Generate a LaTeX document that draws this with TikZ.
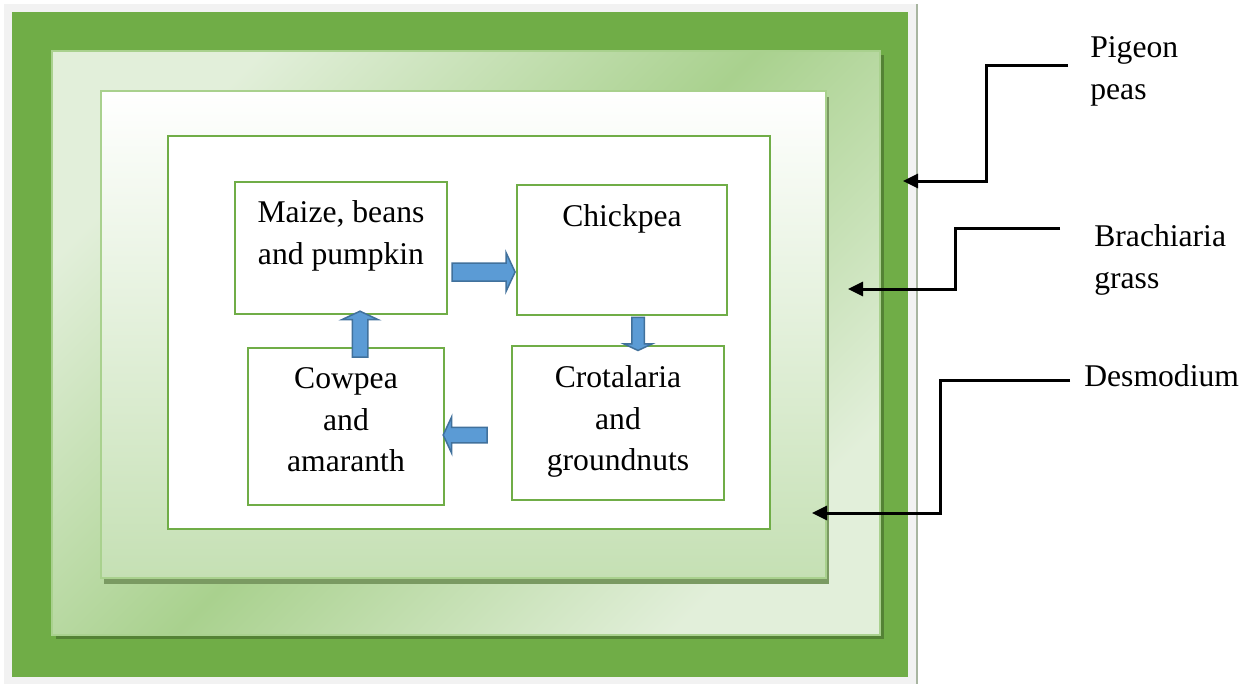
\documentclass[tikz,border=0pt]{standalone}
\usepackage{fontspec}
\setmainfont{Liberation Serif}
\usetikzlibrary{positioning,shapes.arrows,arrows.meta}
\definecolor{bggray}{HTML}{F2F2F2}
\definecolor{edgegray}{HTML}{A8B5A0}
\definecolor{ringgreen}{HTML}{70AD47}
\definecolor{ringshadow}{HTML}{548235}
\definecolor{lightring}{HTML}{E2EFDA}
\definecolor{midring}{HTML}{A9D18E}
\definecolor{ringedge}{HTML}{A9D18E}
\definecolor{innerbottom}{HTML}{C5E0B4}
\definecolor{innershadow}{HTML}{7A9A62}
\definecolor{arrowblue}{HTML}{5B9BD5}
\definecolor{arrowedge}{HTML}{41719C}
\tikzstyle{box}=[draw=ringgreen,line width=0.04cm,fill=white,inner sep=0pt]
\tikzstyle{txt}=[inner sep=0pt,align=center,font=\fontsize{18}{23.8}\selectfont]
\tikzstyle{blockarrow}=[single arrow,draw=arrowedge,fill=arrowblue,line width=0.03cm,inner xsep=0pt,inner ysep=0.14cm,minimum width=0pt,single arrow head extend=0.21cm,single arrow tip angle=130]
\tikzstyle{pointer}=[-{Triangle[length=0.3cm,width=0.28cm]},draw=black,line width=0.06cm]

\begin{document}
\begin{tikzpicture}[x=0.02cm,y=-0.02cm]
 \useasboundingbox (0,0) rectangle (1252,684);
 % rings
 \fill [bggray] (4,4) rectangle (917,684);
 \draw [edgegray,line width=0.04cm] (917,4) -- (917,684);
 \fill [ringgreen] (12,12) rectangle (908,677);
 \fill [ringshadow] (56,55) rectangle (884,639);
 \shade [top color=lightring,bottom color=lightring,middle color=midring,shading angle=45] (52,51) rectangle (880,635);
 \draw [ringedge,line width=0.04cm] (52,51) rectangle (880,635);
 \fill [innershadow] (104,97) rectangle (829,584);
 \shade [top color=white,bottom color=innerbottom] (101,91) rectangle (826,578);
 \draw [ringedge,line width=0.04cm] (101,91) rectangle (826,578);
 \draw [ringgreen,line width=0.04cm,fill=white] (168,136) rectangle (770,529);
 % crop boxes
 \node [style=box,minimum width=4.24cm,minimum height=2.64cm] (maize) at (341,248) {};
 \node [style=box,minimum width=4.2cm,minimum height=2.6cm] (chick) at (622,250) {};
 \node [style=box,minimum width=4.24cm,minimum height=3.08cm] (crot) at (618,423) {};
 \node [style=box,minimum width=3.92cm,minimum height=3.14cm] (cow) at (346,426.5) {};
 \node [style=txt,below=0.38cm of maize.north] (maizetxt) {Maize, beans\\and pumpkin};
 \node [style=txt,below=0.4cm of chick.north] (chicktxt) {Chickpea};
 \node [style=txt,below=0.4cm of crot.north] (crottxt) {Crotalaria\\and\\groundnuts};
 \node [style=txt,below=0.4cm of cow.north] (cowtxt) {Cowpea\\and\\amaranth};
 % rotation arrows
 \node [style=blockarrow,inner ysep=0.165cm,minimum height=1.26cm] (a1) at (481.5,272) {};
 \node [style=blockarrow,minimum height=0.66cm,inner ysep=0.11cm,single arrow head extend=0.16cm,rotate=-90] (a2) at (638,332.5) {};
 \node [style=blockarrow,minimum height=0.88cm,rotate=180] (a3) at (467,435) {};
 \node [style=blockarrow,minimum height=0.92cm,rotate=90] (a4) at (360,336) {};
 % border labels
 \node [style=txt,align=left,anchor=north west] (pigeon) at (1090,36) {Pigeon\\peas};
 \node [style=txt,align=left,anchor=north west] (brach) at (1094,224) {Brachiaria\\grass};
 \node [style=txt,align=left,anchor=north west] (desmo) at (1084,364) {Desmodium};
 \coordinate (pigeonin) at (1068,65);
 \coordinate (brachin) at (1060,228);
 \coordinate (desmoin) at (1070,380);
 \coordinate (pigeonring) at (903,181);
 \coordinate (brachring) at (848,289);
 \coordinate (desmoring) at (812,513);
 \draw [style=pointer] (pigeonin) -| (986,120) |- (pigeonring);
 \draw [style=pointer] (brachin) -| (955,260) |- (brachring);
 \draw [style=pointer] (desmoin) -| (940,450) |- (desmoring);
\end{tikzpicture}
\end{document}
